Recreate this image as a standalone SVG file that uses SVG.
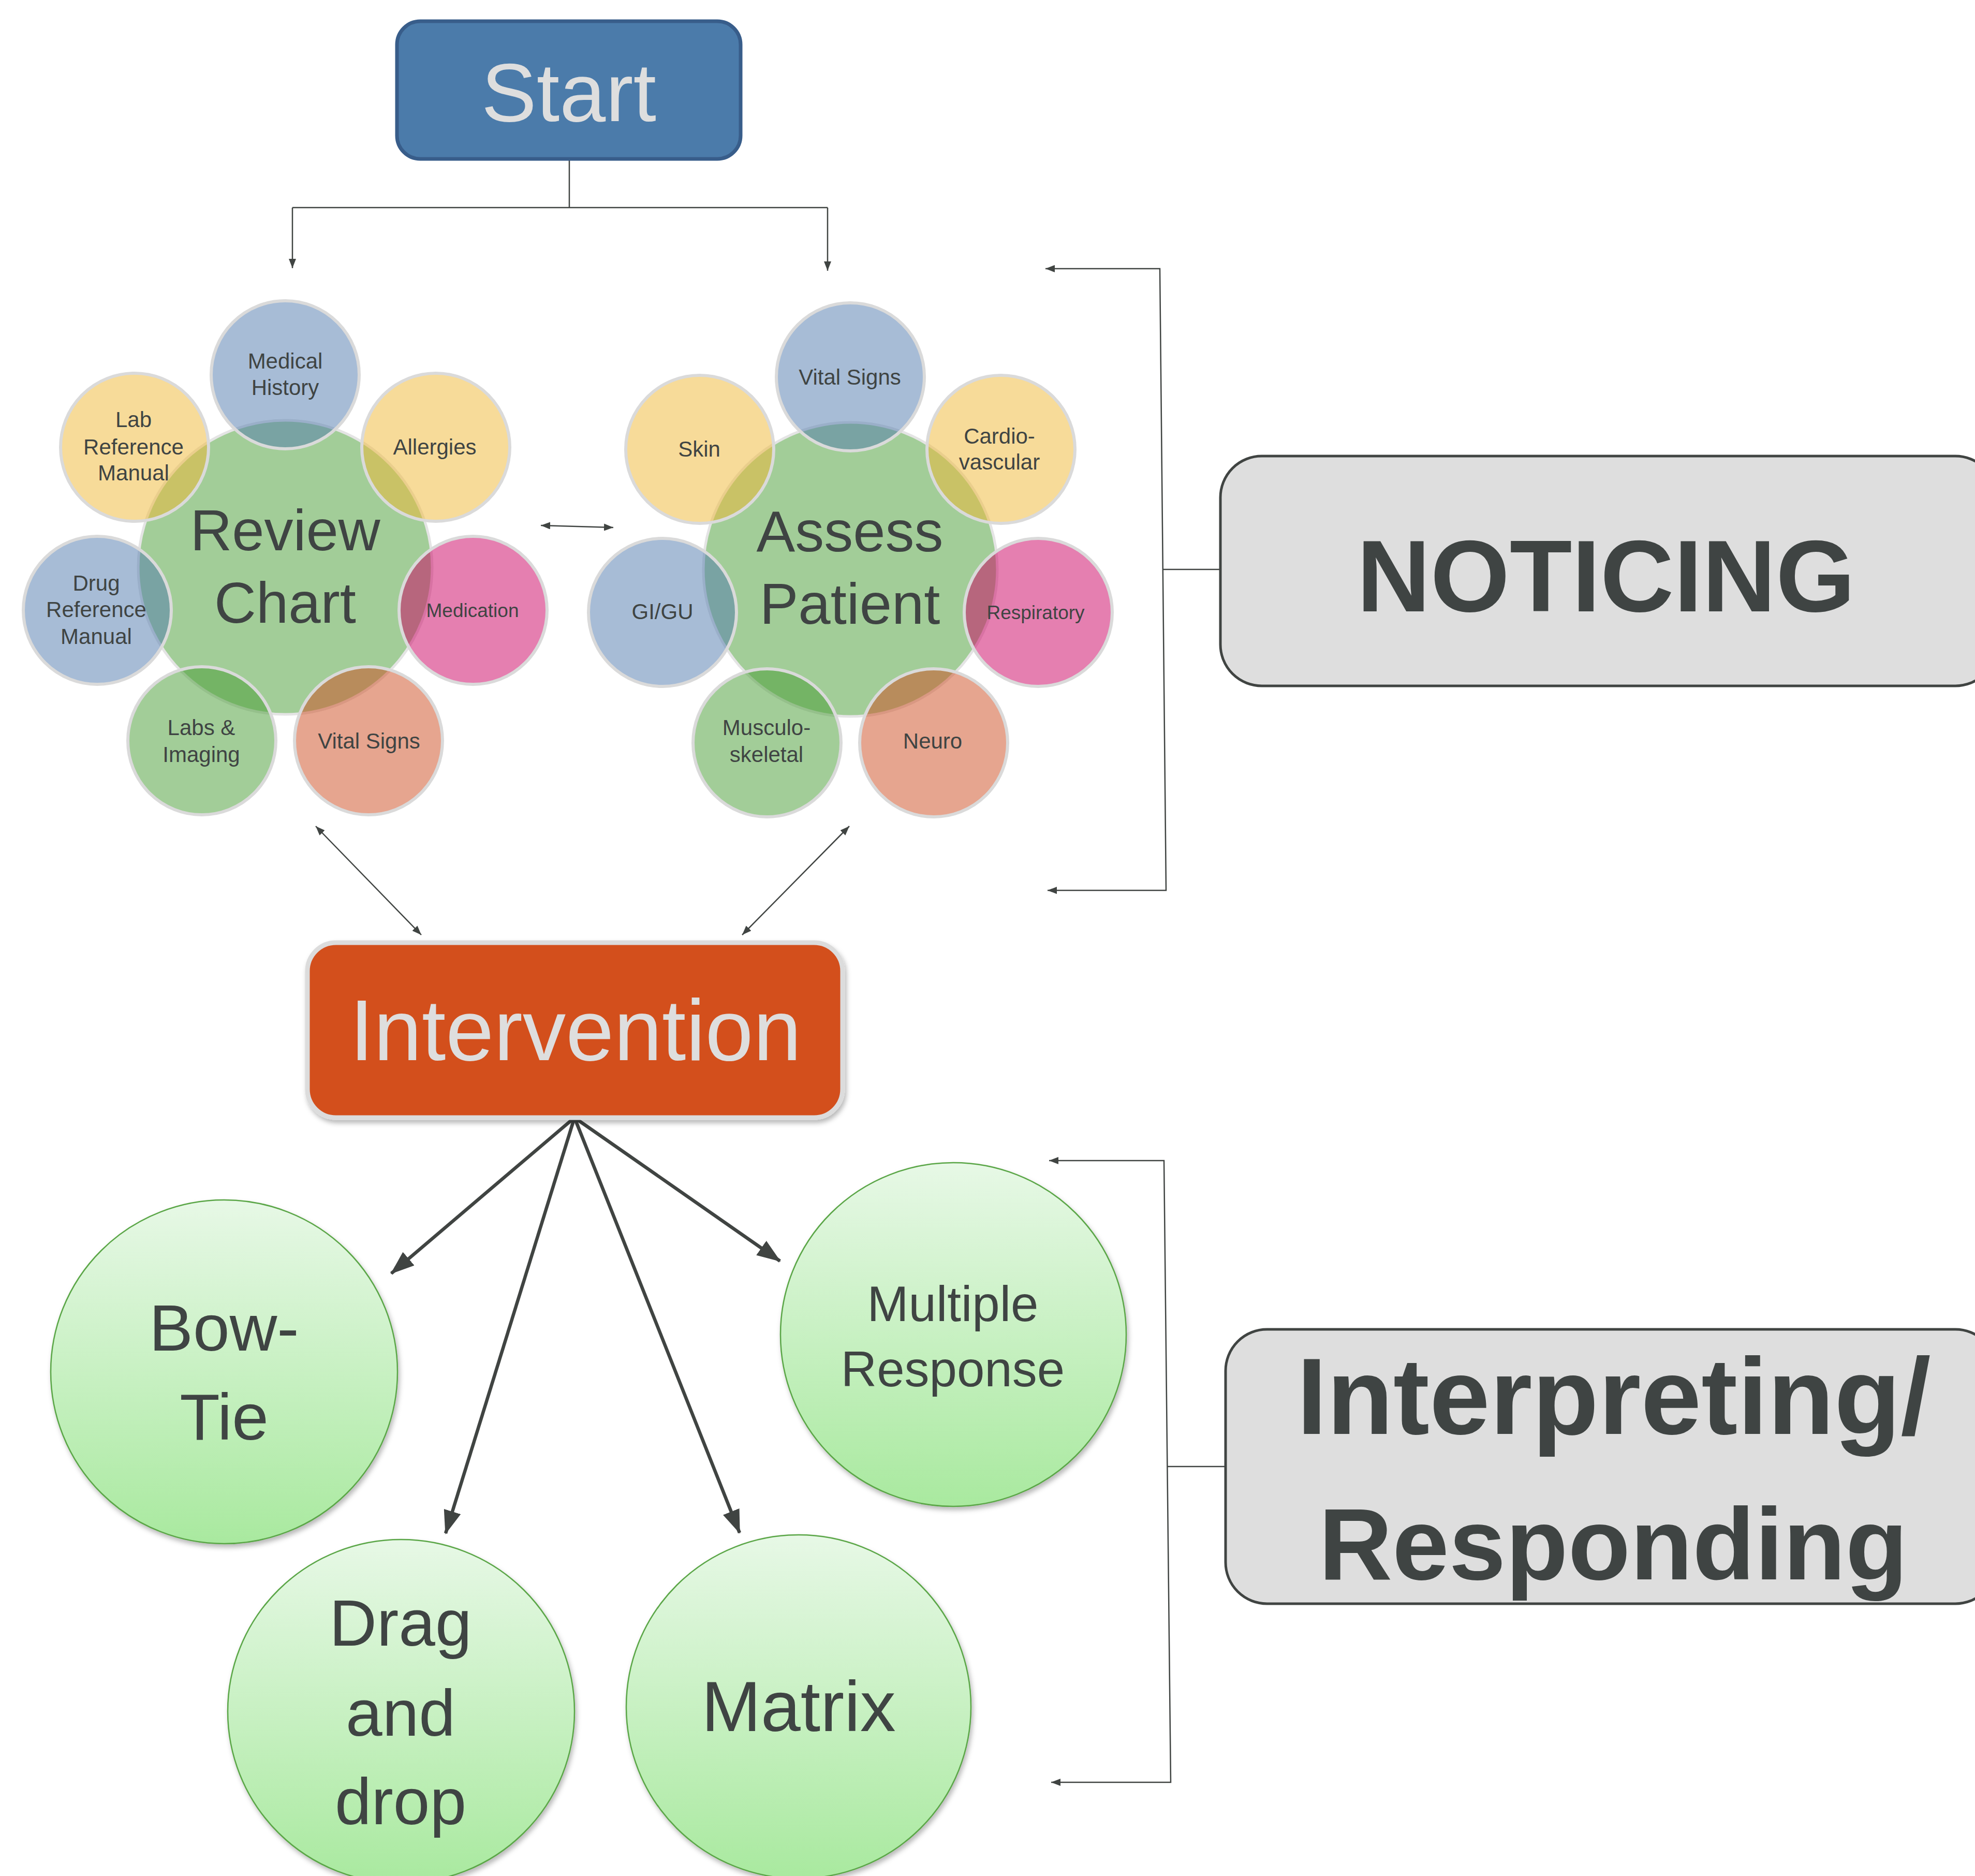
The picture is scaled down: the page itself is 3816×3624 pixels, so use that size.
<svg xmlns="http://www.w3.org/2000/svg" width="3816" height="3624" viewBox="0 0 3816 3624">
<defs>
<style>
.bg{fill:#ffffff}
.ln{fill:none;stroke:#404442;stroke-width:2.5}
.thick{fill:none;stroke:#404442;stroke-width:6.5}
.hub{fill:#a2cd98;stroke:#e4e4e4;stroke-width:5}
.sat{stroke:#dadada;stroke-width:6}
.blue{fill:#4f79ad;fill-opacity:0.5}
.yel{fill:#efb733;fill-opacity:0.5}
.pink{fill:#cb0061;fill-opacity:0.5}
.sal{fill:#cd4b1f;fill-opacity:0.5}
.grn{fill:#459b31;fill-opacity:0.5}
.t{font-family:"Liberation Sans",Arial,sans-serif;fill:#3f4443;text-anchor:middle}
.s{font-size:42px}
.xs{font-size:37px}
.big{font-size:112px}
.oval{fill:url(#gg);stroke:#5aa646;stroke-width:2.5;filter:url(#sh)}
.ov{font-size:127px}
.lab{fill:#dedede;stroke:#404442;stroke-width:5}
.lt{font-weight:bold}
</style>
<marker id="ms" markerUnits="userSpaceOnUse" markerWidth="18" markerHeight="14" refX="18" refY="7" orient="auto-start-reverse">
<path d="M0,0 L18,7 L0,14 z" fill="#404442"/>
</marker>
<marker id="ml" markerUnits="userSpaceOnUse" markerWidth="46" markerHeight="34" refX="44" refY="17" orient="auto">
<path d="M0,0 L46,17 L0,34 z" fill="#404442"/>
</marker>
<linearGradient id="gg" x1="0" y1="0" x2="0" y2="1">
<stop offset="0" stop-color="#e7f8e6"/>
<stop offset="1" stop-color="#a9e99f"/>
</linearGradient>
<filter id="sh" x="-10%" y="-10%" width="130%" height="130%">
<feDropShadow dx="3" dy="6" stdDeviation="5" flood-color="#000000" flood-opacity="0.28"/>
</filter>
</defs>
<rect class="bg" x="0" y="0" width="3816" height="3624"/>

<g id="connectors">
<path class="ln" d="M1100,307 V401"/>
<path class="ln" d="M565,401 H1599"/>
<path class="ln" d="M565,401 V518" marker-end="url(#ms)"/>
<path class="ln" d="M1599,401 V523" marker-end="url(#ms)"/>
<path class="ln" d="M1045,1015 L1185,1019" marker-start="url(#ms)" marker-end="url(#ms)"/>
<path class="ln" d="M610,1596 L814,1806" marker-start="url(#ms)" marker-end="url(#ms)"/>
<path class="ln" d="M1641,1596 L1434,1806" marker-start="url(#ms)" marker-end="url(#ms)"/>
<path class="thick" d="M1110,2159 L756,2460" marker-end="url(#ml)"/>
<path class="thick" d="M1110,2159 L861,2962" marker-end="url(#ml)"/>
<path class="thick" d="M1110,2159 L1429,2961" marker-end="url(#ml)"/>
<path class="thick" d="M1110,2159 L1507,2436" marker-end="url(#ml)"/>
<path class="ln" d="M2020,519 H2241 L2253,1720 H2024" marker-start="url(#ms)" marker-end="url(#ms)"/>
<path class="ln" d="M2247,1100 H2358"/>
<path class="ln" d="M2027,2242 H2249 L2262,3443 H2031" marker-start="url(#ms)" marker-end="url(#ms)"/>
<path class="ln" d="M2256,2833 H2368"/>
</g>

<g id="start">
<rect x="767" y="41" width="664" height="266" rx="45" fill="#4b7baa" stroke="#385d8a" stroke-width="7"/>
<text x="1099" y="234" font-family="Liberation Sans, Arial, sans-serif" font-size="160" fill="#dedede" text-anchor="middle">Start</text>
</g>

<g id="review-chart">
<circle class="hub" cx="551" cy="1096" r="284"/>
<circle class="sat blue" cx="551" cy="724" r="143"/>
<circle class="sat yel" cx="842" cy="864" r="143"/>
<circle class="sat pink" cx="914" cy="1179" r="143"/>
<circle class="sat sal" cx="712" cy="1431" r="143"/>
<circle class="sat grn" cx="390" cy="1431" r="143"/>
<circle class="sat blue" cx="188" cy="1179" r="143"/>
<circle class="sat yel" cx="260" cy="864" r="143"/>
<text class="t big" x="551" y="1063">Review</text>
<text class="t big" x="551" y="1203">Chart</text>
<text class="t s" x="551" y="712">Medical</text>
<text class="t s" x="551" y="763">History</text>
<text class="t s" x="840" y="878">Allergies</text>
<text class="t xs" x="913" y="1192">Medication</text>
<text class="t s" x="713" y="1446">Vital Signs</text>
<text class="t s" x="389" y="1420">Labs &amp;</text>
<text class="t s" x="389" y="1472">Imaging</text>
<text class="t s" x="186" y="1141">Drug</text>
<text class="t s" x="186" y="1192">Reference</text>
<text class="t s" x="186" y="1244">Manual</text>
<text class="t s" x="258" y="825">Lab</text>
<text class="t s" x="258" y="878">Reference</text>
<text class="t s" x="258" y="928">Manual</text>
</g>

<g id="assess-patient">
<circle class="hub" cx="1643" cy="1100" r="284"/>
<circle class="sat blue" cx="1643" cy="728" r="143"/>
<circle class="sat yel" cx="1934" cy="868" r="143"/>
<circle class="sat pink" cx="2006" cy="1183" r="143"/>
<circle class="sat sal" cx="1804" cy="1435" r="143"/>
<circle class="sat grn" cx="1482" cy="1435" r="143"/>
<circle class="sat blue" cx="1280" cy="1183" r="143"/>
<circle class="sat yel" cx="1352" cy="868" r="143"/>
<text class="t big" x="1642" y="1065">Assess</text>
<text class="t big" x="1642" y="1205">Patient</text>
<text class="t s" x="1642" y="743">Vital Signs</text>
<text class="t s" x="1351" y="882">Skin</text>
<text class="t s" x="1931" y="857">Cardio-</text>
<text class="t s" x="1931" y="907">vascular</text>
<text class="t s" x="1280" y="1196">GI/GU</text>
<text class="t xs" x="2001" y="1196">Respiratory</text>
<text class="t s" x="1481" y="1420">Musculo-</text>
<text class="t s" x="1481" y="1472">skeletal</text>
<text class="t s" x="1802" y="1446">Neuro</text>
</g>

<g id="intervention">
<rect x="594" y="1821" width="1034" height="338" rx="55" fill="#d34f1f" stroke="#dcdcdc" stroke-width="9" filter="url(#sh)"/>
<text x="1112" y="2048" font-family="Liberation Sans, Arial, sans-serif" font-size="167" fill="#dedede" text-anchor="middle">Intervention</text>
</g>

<g id="bow-tie">
<ellipse class="oval" cx="433" cy="2650" rx="335" ry="332"/>
<text class="t ov" x="433" y="2609">Bow-</text>
<text class="t ov" x="433" y="2781">Tie</text>
</g>

<g id="drag-and-drop">
<ellipse class="oval" cx="775" cy="3306" rx="335" ry="332"/>
<text class="t ov" x="774" y="3179">Drag</text>
<text class="t ov" x="774" y="3353">and</text>
<text class="t ov" x="774" y="3524">drop</text>
</g>

<g id="matrix">
<ellipse class="oval" cx="1543" cy="3297" rx="333" ry="332"/>
<text class="t" x="1543" y="3344" font-size="138">Matrix</text>
</g>

<g id="multiple-response">
<ellipse class="oval" cx="1842" cy="2578" rx="334" ry="332"/>
<text class="t" x="1841" y="2552" font-size="96">Multiple</text>
<text class="t" x="1841" y="2678" font-size="96">Response</text>
</g>

<g id="noticing">
<rect class="lab" x="2358" y="881" width="1500" height="444" rx="80"/>
<text class="t lt" x="3103" y="1181" font-size="197">NOTICING</text>
</g>

<g id="interpreting-responding">
<rect class="lab" x="2368" y="2568" width="1490" height="530" rx="80"/>
<text class="t lt" x="3118" y="2770" font-size="210">Interpreting/</text>
<text class="t lt" x="3117" y="3051" font-size="197">Responding</text>
</g>
</svg>
